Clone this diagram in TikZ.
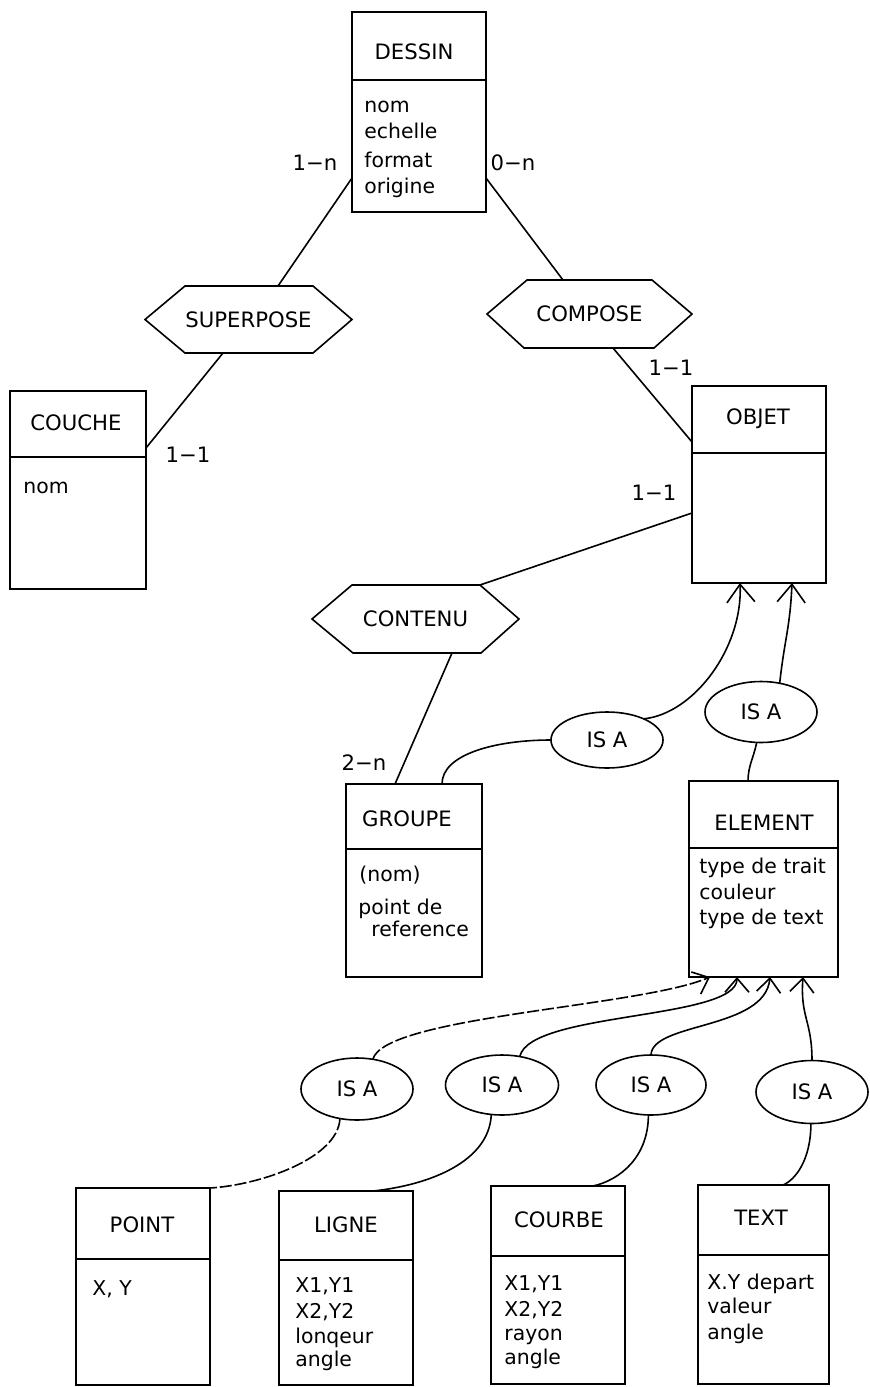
\documentclass[tikz,border=0pt]{standalone}
\usepackage{fontspec}
\setmainfont{DejaVu Sans}
\usetikzlibrary{shapes.geometric,arrows.meta,calc}
\newcommand\ttlfont{\fontsize{10.6}{12}\selectfont}
\newcommand\attrfont{\fontsize{10.2}{12}\selectfont}
\begin{document}
\begin{tikzpicture}[x=0.5pt,y=-0.5pt,
  ebox/.style={draw, rectangle, inner sep=0pt, outer sep=0pt, line width=0.8pt},
  ttl/.style={font=\ttlfont, inner sep=0pt},
  attr/.style={font=\attrfont, anchor=base west, inner sep=0pt},
  rel/.style={rectangle, inner sep=0pt, outer sep=0pt, font=\ttlfont},
  hexa/.style={line width=0.8pt, line join=miter},
  isa/.style={draw, ellipse, inner sep=0pt, outer sep=0pt, font=\ttlfont, line width=0.8pt},
  card/.style={font=\ttlfont, inner sep=0pt},
  link/.style={line width=0.8pt},
  inh/.style={link, -{Straight Barb[length=9pt,width=14pt]}},
  inhs/.style={link, -{Straight Barb[length=7pt,width=12pt]}},
  dsh/.style={dash pattern=on 6pt off 1.5pt}
]
\fill[white] (0,0) rectangle (869,1387);
\useasboundingbox (0,0) rectangle (869,1387);

% ---------- entities ----------
\node[ebox, minimum width=67pt, minimum height=100pt] (dessin) at (419,112) {};
\draw[link] ($(dessin.north west)+(0,68)$) -- ($(dessin.north east)+(0,68)$);
\node[ttl] (dessinT) at (414,52) {DESSIN};
\node[attr] (d1) at (364,112) {nom};
\node[attr] (d2) at (364,138) {echelle};
\node[attr] (d3) at (364,167) {format};
\node[attr] (d4) at (364,193) {origine};

\node[ebox, minimum width=68pt, minimum height=99pt] (couche) at (78,490) {};
\draw[link] ($(couche.north west)+(0,66)$) -- ($(couche.north east)+(0,66)$);
\node[ttl] (coucheT) at (76,423) {COUCHE};
\node[attr] (co1) at (23,493) {nom};

\node[ebox, minimum width=67pt, minimum height=98.5pt] (objet) at (759,484.5) {};
\draw[link] ($(objet.north west)+(0,67)$) -- ($(objet.north east)+(0,67)$);
\node[ttl] (objetT) at (758,419) {OBJET};

\node[ebox, minimum width=68pt, minimum height=96.5pt] (groupe) at (414,880.5) {};
\draw[link] ($(groupe.north west)+(0,65)$) -- ($(groupe.north east)+(0,65)$);
\node[ttl] (groupeT) at (407,819) {GROUPE};
\node[attr] (g1) at (359,881) {(nom)};
\node[attr] (g2) at (358,914) {point de};
\node[attr] (g3) at (371,936) {reference};

\node[ebox, minimum width=74.5pt, minimum height=98pt] (element) at (763.5,879) {};
\draw[link] ($(element.north west)+(0,67)$) -- ($(element.north east)+(0,67)$);
\node[ttl] (elementT) at (764,823) {ELEMENT};
\node[attr] (e1) at (699,873) {type de trait};
\node[attr] (e2) at (699,899) {couleur};
\node[attr] (e3) at (699,924) {type de text};

\node[ebox, minimum width=67pt, minimum height=98.5pt] (point) at (143,1286.5) {};
\draw[link] ($(point.north west)+(0,71)$) -- ($(point.north east)+(0,71)$);
\node[ttl] (pointT) at (142,1225) {POINT};
\node[attr] (p1) at (92,1295) {X, Y};

\node[ebox, minimum width=67pt, minimum height=97pt] (ligne) at (346,1288) {};
\draw[link] ($(ligne.north west)+(0,69)$) -- ($(ligne.north east)+(0,69)$);
\node[ttl] (ligneT) at (346,1225) {LIGNE};
\node[attr] (l1) at (295,1292) {X1,Y1};
\node[attr] (l2) at (295,1318) {X2,Y2};
\node[attr] (l3) at (295,1343) {lonqeur};
\node[attr] (l4) at (295,1366) {angle};

\node[ebox, minimum width=67pt, minimum height=99pt] (courbe) at (558,1285) {};
\draw[link] ($(courbe.north west)+(0,70)$) -- ($(courbe.north east)+(0,70)$);
\node[ttl] (courbeT) at (559,1220) {COURBE};
\node[attr] (cb1) at (504,1290) {X1,Y1};
\node[attr] (cb2) at (504,1316) {X2,Y2};
\node[attr] (cb3) at (504,1340) {rayon};
\node[attr] (cb4) at (504,1364) {angle};

\node[ebox, minimum width=65.5pt, minimum height=99.5pt] (text) at (763.5,1284.5) {};
\draw[link] ($(text.north west)+(0,70)$) -- ($(text.north east)+(0,70)$);
\node[ttl] (textT) at (761,1218) {TEXT};
\node[attr] (t1) at (707,1289) {X.Y depart};
\node[attr] (t2) at (707,1313) {valeur};
\node[attr] (t3) at (707,1339) {angle};

% ---------- relationships ----------
\node[rel, minimum width=103.5pt, minimum height=33.5pt] (superpose) at (248.5,319.5) {SUPERPOSE};
\draw[hexa] (superpose.west) -- ($(superpose.north west)+(40,0)$) -- ($(superpose.north east)+(-39,0)$) -- (superpose.east) -- ($(superpose.south east)+(-39,0)$) -- ($(superpose.south west)+(40,0)$) -- cycle;

\node[rel, minimum width=102.5pt, minimum height=34pt] (compose) at (589.5,314) {COMPOSE};
\draw[hexa] (compose.west) -- ($(compose.north west)+(40,0)$) -- ($(compose.north east)+(-40,0)$) -- (compose.east) -- ($(compose.south east)+(-38,0)$) -- ($(compose.south west)+(37,0)$) -- cycle;

\node[rel, minimum width=103.5pt, minimum height=34pt] (contenu) at (415.5,619) {CONTENU};
\draw[hexa] (contenu.west) -- ($(contenu.north west)+(40,0)$) -- ($(contenu.north east)+(-39,0)$) -- (contenu.east) -- ($(contenu.south east)+(-38,0)$) -- ($(contenu.south west)+(41,0)$) -- cycle;

% ---------- IS A ----------
\node[isa, minimum width=56pt, minimum height=28pt] (isaG) at (607,740) {IS A};
\node[isa, minimum width=56pt, minimum height=30.5pt] (isaE) at (761,712) {IS A};
\node[isa, minimum width=56pt, minimum height=31pt] (isaP) at (357,1089) {IS A};
\node[isa, minimum width=56.5pt, minimum height=30pt] (isaL) at (502,1085) {IS A};
\node[isa, minimum width=55pt, minimum height=30pt] (isaC) at (651,1085) {IS A};
\node[isa, minimum width=56pt, minimum height=31.5pt] (isaT) at (812,1092) {IS A};

% ---------- cardinalities ----------
\node[card] (c1) at (315,163) {1−n};
\node[card] (c2) at (513,163) {0−n};
\node[card] (c3) at (188,455) {1−1};
\node[card] (c4) at (671,368) {1−1};
\node[card] (c5) at (654,493) {1−1};
\node[card] (c6) at (364,763) {2−n};

% ---------- links ----------
\draw[link] ($(dessin.south west)+(0,-34)$) -- ($(superpose.north west)+(133,0)$);
\draw[link] ($(superpose.south west)+(78,0)$) -- ($(couche.north east)+(0,57)$);
\draw[link] ($(dessin.south east)+(0,-34)$) -- ($(compose.north west)+(76,0)$);
\draw[link] ($(compose.south west)+(126,0)$) -- ($(objet.north west)+(0,56)$);
\draw[link] ($(objet.north west)+(0,127)$) -- ($(contenu.north east)+(-39,0)$);
\draw[link] ($(contenu.south west)+(140,0)$) -- ($(groupe.north west)+(49,0)$);

\draw[link] ($(groupe.north west)+(96,0)$) .. controls +(0,-30) and +(-55,0) .. (isaG.west);
\draw[inh] (isaG.30) .. controls +(50,-5) and +(3,65) .. ($(objet.south west)+(48,0)$);
\draw[inh] (isaE.57) .. controls +(5,-45) and +(-2,45) .. ($(objet.south west)+(100,0)$);
\draw[link] (isaE.262) .. controls +(-3,15) and +(0,-15) .. ($(element.north west)+(59,0)$);

\draw[inhs,dsh] (isaP.62) .. controls +(12,-43) and +(-70,30) .. ($(element.south west)+(21,0)$);
\draw[inhs] (isaL.58) .. controls +(10,-45) and +(0,43) .. ($(element.south west)+(48,0)$);
\draw[inhs] (isaC.90) .. controls +(1,-33) and +(-5,53) .. ($(element.south west)+(81,0)$);
\draw[inhs] (isaT.90) .. controls +(0,-40) and +(-3,40) .. ($(element.south west)+(114,0)$);

\draw[link,dsh] (isaP.240) .. controls +(-2,40) and +(50,-3) .. (point.north east);
\draw[link] (isaL.250) .. controls +(-2,47) and +(57,-6) .. ($(ligne.north west)+(94,0)$);
\draw[link] (isaC.265) .. controls +(0,42) and +(27,-6) .. ($(courbe.north west)+(102,0)$);
\draw[link] (isaT.268) .. controls +(0,37) and +(12,-5) .. ($(text.north west)+(85,0)$);
\end{tikzpicture}
\end{document}
